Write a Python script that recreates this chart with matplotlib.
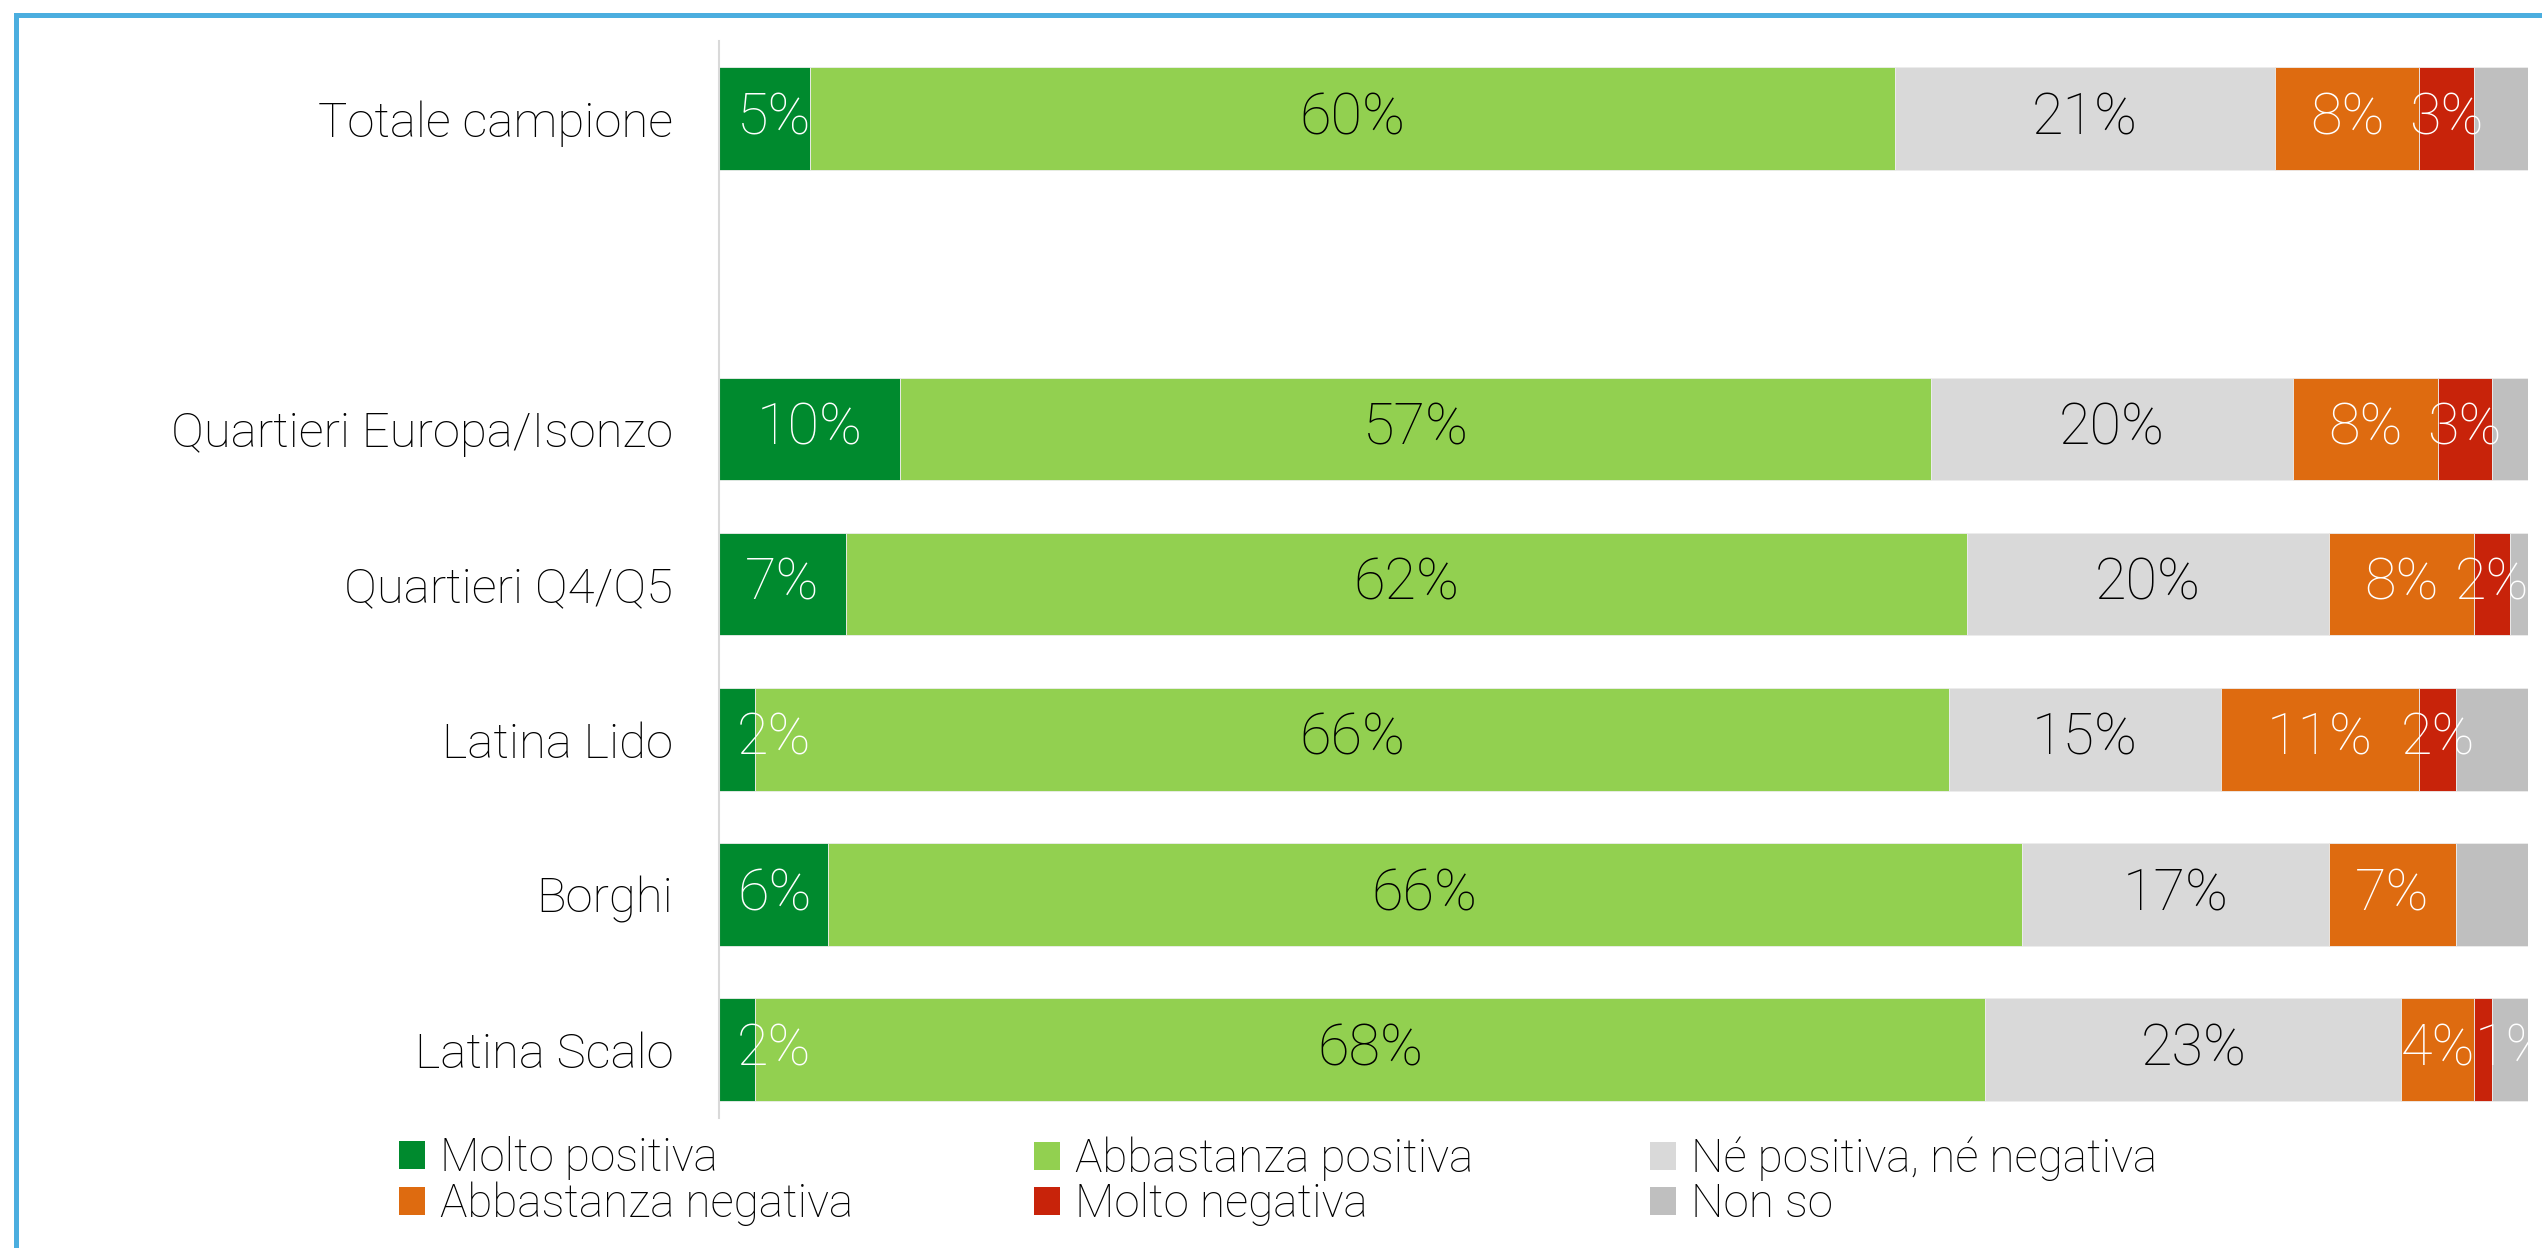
import matplotlib.pyplot as plt
import numpy as np
from matplotlib.patches import Rectangle

plt.rcParams['font.family'] = ['Roboto', 'DejaVu Sans']
plt.rcParams['font.weight'] = 'light'

categories = ['Totale campione', 'Quartieri Europa/Isonzo', 'Quartieri Q4/Q5',
              'Latina Lido', 'Borghi', 'Latina Scalo']

series_names = ['Molto positiva', 'Abbastanza positiva', 'Né positiva, né negativa',
                'Abbastanza negativa', 'Molto negativa', 'Non so']

molto_pos = [5, 10, 7, 2, 6, 2]
abb_pos = [60, 57, 62, 66, 66, 68]
ne_pos_ne_neg = [21, 20, 20, 15, 17, 23]
abb_neg = [8, 8, 8, 11, 7, 4]
molto_neg = [3, 3, 2, 2, 0, 1]
non_so = [3, 2, 1, 4, 4, 2]

colors = ['#008A2E', '#92D050', '#D9D9D9', '#DE6B10', '#C8230A', '#BFBFBF']
text_colors = ['white', 'black', 'black', 'white', 'white', None]  # Non so not labelled

values = [molto_pos, abb_pos, ne_pos_ne_neg, abb_neg, molto_neg, non_so]

# first row (total) is separated from the others by an empty slot
ypos = np.arange(len(categories)) + np.r_[0, np.ones(len(categories) - 1)]

fig = plt.figure(figsize=(25.42, 12.48), dpi=100)
ax = fig.add_axes([0.2829, 0.1042, 0.9945 - 0.2829, 0.9671 - 0.1042])

left = np.zeros(len(categories))
bars = []
row_labels = [[] for _ in categories]
for name, vals, col, tcol in zip(series_names, values, colors, text_colors):
    vals = np.array(vals, dtype=float)
    b = ax.barh(ypos, vals, left=left, height=0.66, color=col,
                edgecolor='#EDEDED', linewidth=0.6, label=name)
    bars.append(b)
    if tcol is not None:
        for r, (y, l, v) in enumerate(zip(ypos, left, vals)):
            if v > 0:
                t = ax.text(l + v / 2, y, f'{v:.0f}%', ha='center', va='center',
                            color=tcol, fontsize=41.5, clip_on=True)
                row_labels[r].append(t)
    left += vals

ax.set_xlim(0, 100)
ax.set_ylim(6.44, -0.5)
ax.set_yticks(ypos, categories, fontsize=35.4)
ax.tick_params(left=False, pad=29.6)
ax.set_xticks([])
for s in ['top', 'right', 'bottom']:
    ax.spines[s].set_visible(False)
ax.spines['left'].set_color('#D9D9D9')
ax.spines['left'].set_linewidth(1.5)

# nudge labels so they stay inside the bar start and don't collide
fig.canvas.draw()
renderer = fig.canvas.get_renderer()
inv = ax.transData.inverted()
for labels in row_labels:
    prev_right = None
    for t in labels:
        bb = t.get_window_extent(renderer)
        x0, _ = inv.transform((bb.x0, bb.y0))
        x1, _ = inv.transform((bb.x1, bb.y0))
        w = x1 - x0
        xc = t.get_position()[0]
        lo = 1.0 if prev_right is None else prev_right
        if xc - w / 2 < lo:
            xc = lo + w / 2
            t.set_x(xc)
        prev_right = xc + w / 2

# legend: three columns of two entries, row-major order
col_x = [0.1570, 0.4068, 0.6491]
for i, x in enumerate(col_x):
    handles = [bars[i], bars[i + 3]]
    lg = fig.legend(handles, [series_names[i], series_names[i + 3]],
                    loc='upper left', bbox_to_anchor=(x, 0.0895),
                    frameon=False, fontsize=33, borderpad=0, borderaxespad=0,
                    handlelength=0.57, handleheight=0.57, handletextpad=0.33,
                    labelspacing=0.03)
    for h in lg.legend_handles:
        h.set_edgecolor('none')

# blue frame (bottom and right lie outside the crop)
fig.patches.append(Rectangle((15.5 / 2542, -0.1), (2545 - 15.5) / 2542, 1.1 - 15 / 1248,
                             transform=fig.transFigure, fill=False,
                             edgecolor='#4BAEDF', linewidth=3.6))

fig.savefig('out.png', dpi=100)
